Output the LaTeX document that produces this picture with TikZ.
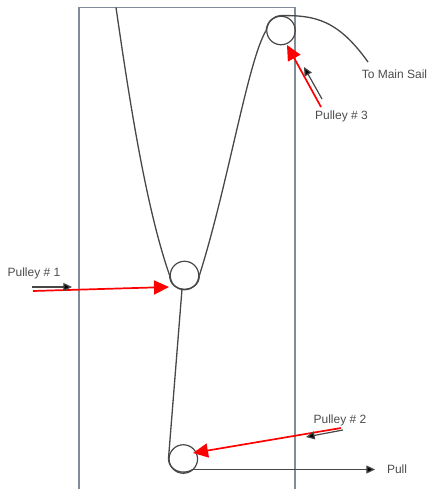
\documentclass[tikz,border=0pt]{standalone}
\usepackage{fontspec}
\setmainfont{Liberation Sans}
\usetikzlibrary{arrows.meta}
\newlength{\du}
\setlength{\du}{0.75pt}
\definecolor{framecolor}{rgb}{0.50, 0.55, 0.60}
\definecolor{ropecolor}{rgb}{0.28, 0.28, 0.28}
\tikzset{
	pulley/.style={circle,draw=ropecolor,line width=1.2\du,minimum size=28.5\du,inner sep=0pt},
	rope/.style={draw=ropecolor,line width=1.3\du},
	frameline/.style={draw=framecolor,line width=1.4\du},
	redarrow/.style={draw=red,line width=1.7\du,-{Triangle[length=11.25pt,width=10.5pt,fill=red]}},
	blackarrow/.style={draw=ropecolor,line width=1.2\du,-{Triangle[length=6.5pt,width=6pt,fill=black]}},
	caption/.style={font=\fontsize{9pt}{10pt}\selectfont,text=black!70,inner sep=0pt},
}

\begin{document}
\begin{tikzpicture}
	\pgftransformyscale{-1.000000}
	\useasboundingbox (0\du,0\du) rectangle (428\du,489\du);
	% box
	\draw[frameline] (79\du,489\du) -- (79\du,7.5\du) -- (295\du,7.5\du) -- (295\du,489\du);
	% pulleys
	\node[pulley] (pulley3) at (281\du,30.5\du){};
	\node[pulley] (pulley1) at (184.5\du,275.5\du){};
	\node[pulley] (pulley2) at (183.3\du,459\du){};
	% labels
	\node[caption] (main) at (394.5\du,74.5\du){To Main Sail};
	\node[caption] (label3) at (341.5\du,116\du){Pulley \# 3};
	\node[caption] (label1) at (34\du,273\du){Pulley \# 1};
	\node[caption] (label2) at (340\du,420\du){Pulley \# 2};
	\node[caption] (pull) at (397\du,469\du){Pull};
	% free ends
	\coordinate (ropetop) at (116\du,7.5\du);
	\coordinate (sailend) at (368\du,62\du);
	\coordinate (pullstart) at (193\du,469.5\du);
	\coordinate (pullend) at (375\du,469.5\du);
	\coordinate (tail1) at (33\du,291\du);
	\coordinate (tip1) at (169\du,287\du);
	\coordinate (tail2) at (341\du,428\du);
	\coordinate (tip2) at (193\du,453\du);
	\coordinate (tail3) at (321\du,107\du);
	\coordinate (tip3) at (287\du,45\du);
	\coordinate (bfrom1) at (32\du,287\du);
	\coordinate (bto1) at (72\du,287\du);
	\coordinate (bfrom2) at (343\du,430\du);
	\coordinate (bto2) at (306\du,437\du);
	\coordinate (bfrom3) at (322\du,99\du);
	\coordinate (bto3) at (304\du,67\du);
	% ropes
	\draw[rope] (ropetop) .. controls (128\du,90\du) and (145\du,205\du) .. (pulley1.west);
	\draw[rope] (pulley1.west) .. controls (170\du,294\du) and (199\du,294\du) .. (pulley1.east);
	\draw[rope] (pulley1.east) .. controls (228\du,185\du) and (248\du,60\du) .. (pulley3.west);
	\draw[rope] (pulley3.west) .. controls (267\du,22\du) and (273\du,16\du) .. (pulley3.north);
	\draw[rope] (pulley3.north) .. controls (315\du,15\du) and (338\du,20\du) .. (sailend);
	\draw[rope] (pulley1.-100) -- (pulley2.west);
	\draw[rope] (pulley2.west) .. controls (169\du,470\du) and (182\du,476\du) .. (pullstart);
	\draw[blackarrow] (pullstart) -- (pullend);
	% red arrows
	\draw[redarrow] (tail1) -- (tip1);
	\draw[redarrow] (tail2) -- (tip2);
	\draw[redarrow] (tail3) -- (tip3);
	% black arrows
	\draw[blackarrow] (bfrom1) -- (bto1);
	\draw[blackarrow] (bfrom2) -- (bto2);
	\draw[blackarrow] (bfrom3) -- (bto3);
\end{tikzpicture}
\end{document}
